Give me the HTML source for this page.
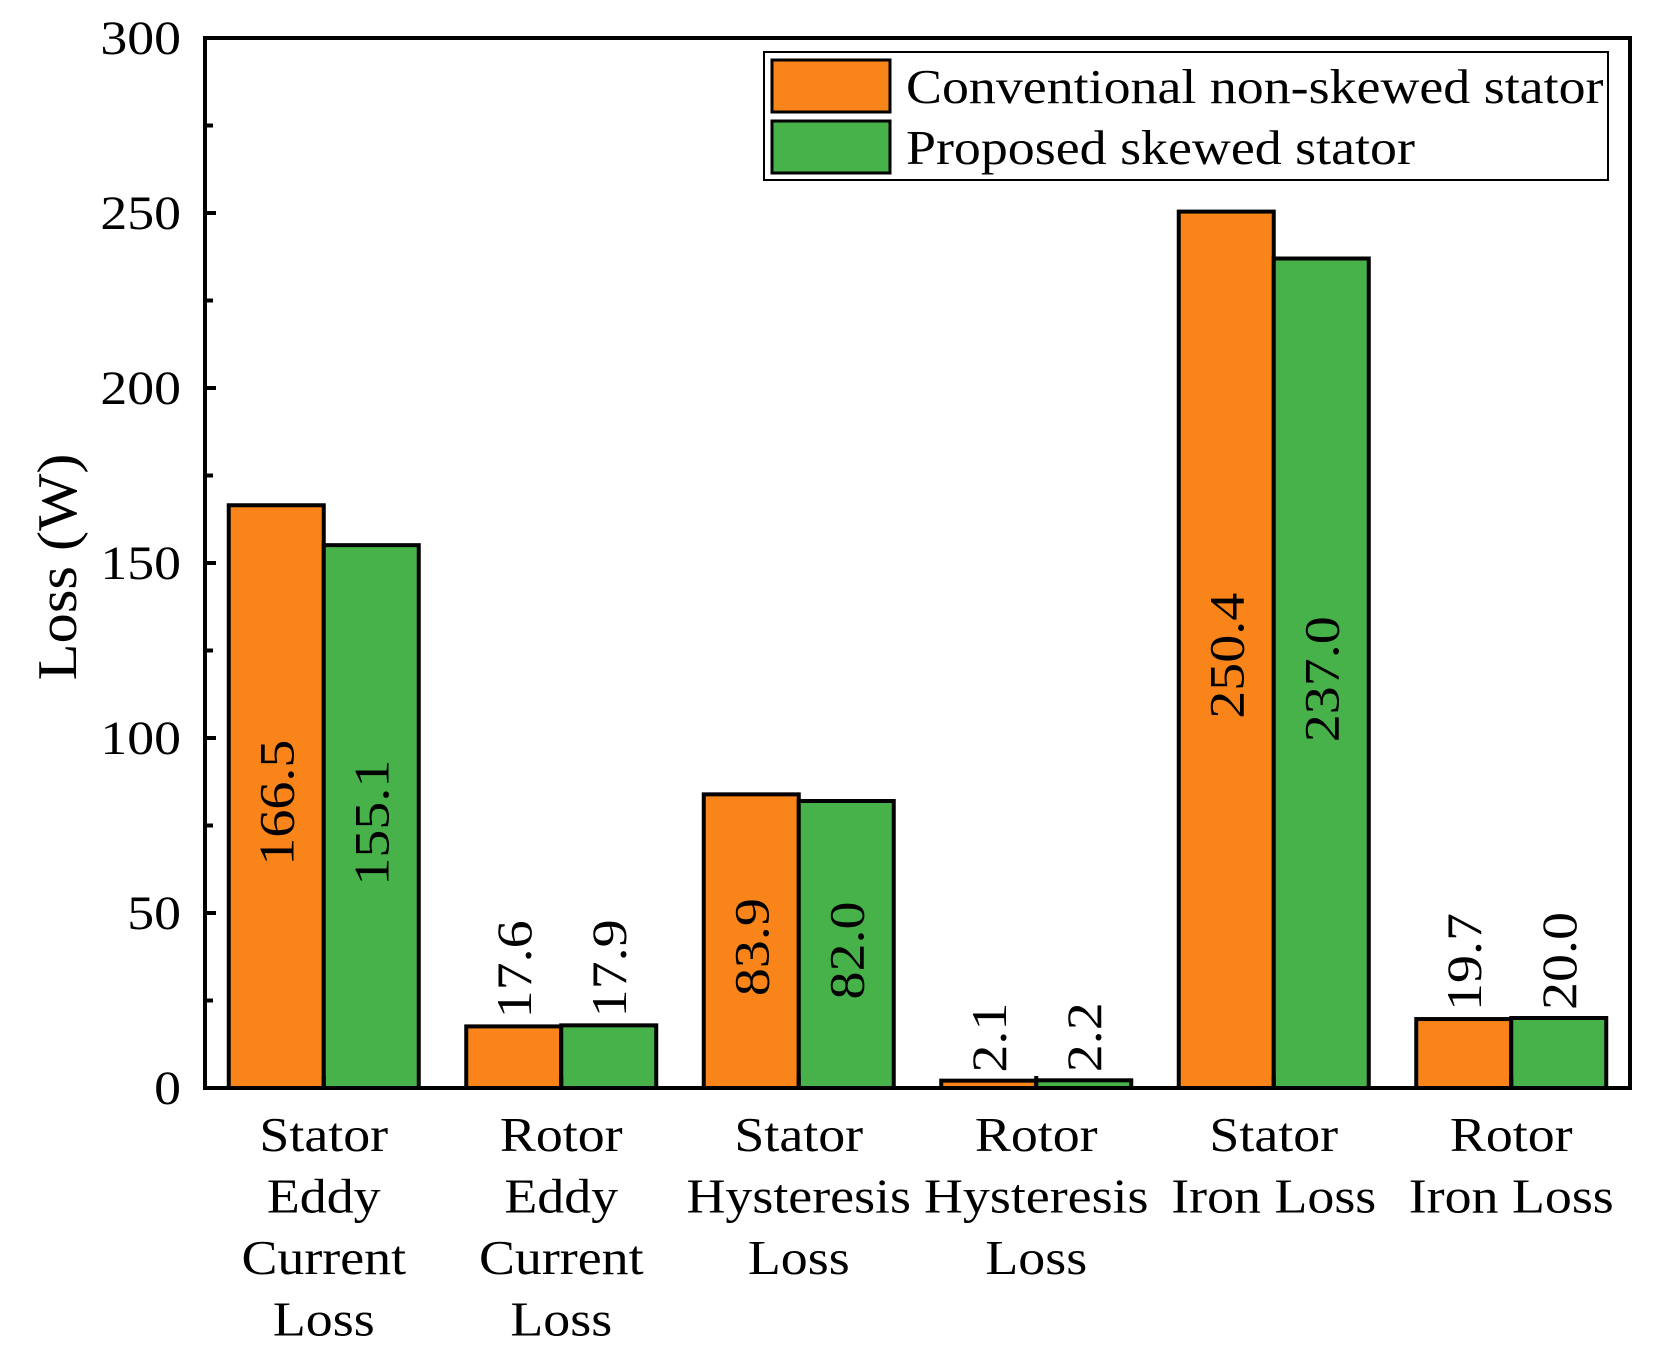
<!DOCTYPE html>
<html><head><meta charset="utf-8"><style>html,body{margin:0;padding:0;background:#fff}</style></head>
<body>
<svg id="chart" width="1653" height="1358" viewBox="0 0 1653 1358" xmlns="http://www.w3.org/2000/svg" font-family="'Liberation Serif', serif">
<rect width="1653" height="1358" fill="#fff"/>
<g id="plot"></g>
</svg>
<script>
const categories = [["Stator","Eddy","Current","Loss"],["Rotor","Eddy","Current","Loss"],["Stator","Hysteresis","Loss"],["Rotor","Hysteresis","Loss"],["Stator","Iron Loss"],["Rotor","Iron Loss"]];
const conventional = [166.5, 17.6, 83.9, 2.1, 250.4, 19.7];
const proposed = [155.1, 17.9, 82.0, 2.2, 237.0, 20.0];
const yTicks = [0, 50, 100, 150, 200, 250, 300];
const seriesNames = ["Conventional non-skewed stator", "Proposed skewed stator"];

const NS = "http://www.w3.org/2000/svg";
const L = 205, R = 1630, T = 38, B = 1088;
const band = (R - L) / categories.length;
const bw = band * 0.4;
const y = v => B - (v / 300) * (B - T);
const xc = i => L + band * (i + 0.5);
const g = document.getElementById('plot');
function mk(tag, attrs, text) {
  const e = document.createElementNS(NS, tag);
  for (const k in attrs) e.setAttribute(k, attrs[k]);
  if (text !== undefined) e.textContent = text;
  g.appendChild(e);
  return e;
}
const colors = ["#f9851a", "#48b24a"];
[conventional, proposed].forEach((ser, s) => {
  ser.forEach((v, i) => {
    const x0 = xc(i) - bw + s * bw;
    const r = mk('rect', {x: x0, y: y(v), width: bw, height: B - y(v), fill: colors[s], stroke: '#000', 'stroke-width': 4});
    
    
    const cx = x0 + bw / 2 + 17;
    let t;
    if (v > 50) {
      const cy = (y(v) + B) / 2 + 6;
      t = mk('text', {x: 0, y: 0, transform: `translate(${cx},${cy}) rotate(-90) scale(1.12,1)`, 'text-anchor': 'middle', 'font-size': 50}, v.toFixed(1));
    } else {
      const cy = y(v) - 8;
      t = mk('text', {x: 0, y: 0, transform: `translate(${cx},${cy}) rotate(-90) scale(1.12,1)`, 'text-anchor': 'start', 'font-size': 50}, v.toFixed(1));
    }
    
    
  });
});
const fr = mk('rect', {x: L, y: T, width: R - L, height: B - T, fill: 'none', stroke: '#000', 'stroke-width': 4});


yTicks.forEach(v => {
  const tk = mk('line', {x1: L, x2: L + 11, y1: y(v), y2: y(v), stroke: '#000', 'stroke-width': 4});
  
  
  const tl = mk('text', {x: 0, y: 0, transform: `translate(${L - 24},${y(v) + 16}) scale(1.12,1)`, 'text-anchor': 'end', 'font-size': 48}, String(v));
  
  
  if (v < 300) {
    const mt = mk('line', {x1: L, x2: L + 8, y1: y(v + 25), y2: y(v + 25), stroke: '#000', 'stroke-width': 4});
    
    
  }
});
categories.forEach((lines, i) => {
  const tk = mk('line', {x1: xc(i), x2: xc(i), y1: B, y2: B - 12, stroke: '#000', 'stroke-width': 4});
  
  
  lines.forEach((ln, j) => {
    const tl = mk('text', {x: 0, y: 0, transform: `translate(${xc(i)},${1151 + j * 61.5}) scale(1.1,1)`, 'text-anchor': 'middle', 'font-size': 49}, ln);
    
    
  });
});
const yt = mk('text', {x: 0, y: 0, transform: 'translate(76,567) rotate(-90) scale(1.08,1)', 'text-anchor': 'middle', 'font-size': 56}, 'Loss (W)');


const lg = mk('rect', {x: 764, y: 52, width: 844, height: 128, fill: '#fff', stroke: '#000', 'stroke-width': 2});


seriesNames.forEach((nm, s) => {
  const sw = mk('rect', {x: 772, y: 60 + s * 61, width: 118, height: 52, fill: colors[s], stroke: '#000', 'stroke-width': 3});
  
  
  const lt = mk('text', {x: 0, y: 0, transform: `translate(906,${103 + s * 61}) scale(1.1,1)`, 'font-size': 49}, nm);
  
  
});
</script>
</body></html>
